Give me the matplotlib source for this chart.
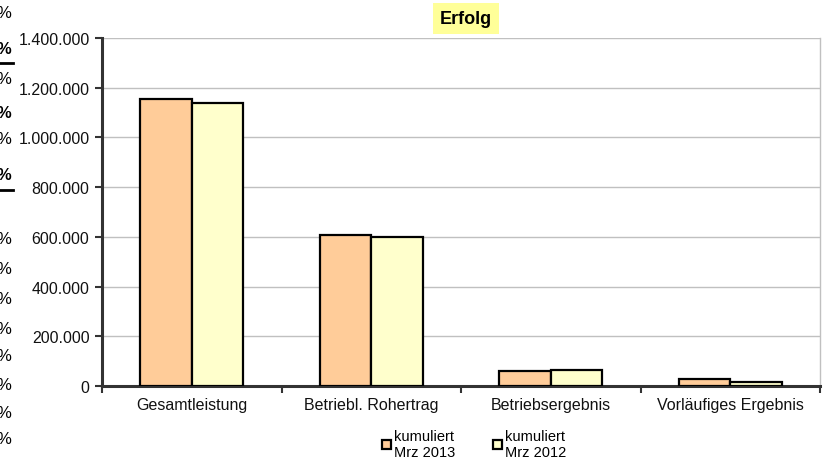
import matplotlib
matplotlib.use("Agg")
import matplotlib.pyplot as plt
from matplotlib.ticker import FuncFormatter, FixedLocator
import numpy as np

plt.rcParams['font.family'] = ['Liberation Sans', 'DejaVu Sans']

categories = ["Gesamtleistung", "Betriebl. Rohertrag", "Betriebsergebnis", "Vorläufiges Ergebnis"]
series_names = ["kumuliert\nMrz 2013", "kumuliert\nMrz 2012"]
values_2013 = [1155000, 607000, 61000, 27000]
values_2012 = [1137000, 598000, 66000, 17000]
yticks = [0, 200000, 400000, 600000, 800000, 1000000, 1200000, 1400000]
colors = ["#FFCC99", "#FFFFCC"]

W, H = 827, 460
fig = plt.figure(figsize=(W / 100, H / 100), dpi=100)
ax = fig.add_axes([102 / W, 1 - 387 / H, (820 - 102) / W, (387 - 39) / H])

x = np.arange(len(categories))
bw = 0.287
b1 = ax.bar(x - bw / 2, values_2013, bw, color=colors[0], edgecolor="black", linewidth=1.6, zorder=3, label=series_names[0])
b2 = ax.bar(x + bw / 2, values_2012, bw, color=colors[1], edgecolor="black", linewidth=1.6, zorder=3, label=series_names[1])

ax.set_xlim(-0.5, len(categories) - 0.5)
ax.set_ylim(0, 1400000)
ax.set_yticks(yticks)
ax.yaxis.set_major_formatter(FuncFormatter(lambda v, p: f"{int(v):,}".replace(",", ".")))
ax.grid(axis="y", color="#C0C0C0", linewidth=1, zorder=0)
ax.set_axisbelow(True)

ax.set_xticks(x)
ax.set_xticklabels(categories, fontsize=11.5)
ax.xaxis.set_minor_locator(FixedLocator(np.arange(-0.5, len(categories), 1.0)))
ax.tick_params(axis="x", which="major", length=0, pad=8)
ax.tick_params(axis="x", which="minor", length=5, width=1.5, color="#333333", direction="out")
ax.tick_params(axis="y", length=5, width=1.5, color="#333333", direction="out", labelsize=11.5, pad=4)
for lbl in ax.get_yticklabels() + ax.get_xticklabels():
    lbl.set_color("#111111")

for s in ["left", "bottom"]:
    ax.spines[s].set_color("#333333")
    ax.spines[s].set_linewidth(2.2)
ax.spines["top"].set_visible(False)
ax.spines["right"].set_color("#C0C0C0")
ax.spines["right"].set_linewidth(1)

# Title
fig.text(466 / W, 1 - 19.5 / H, "Erfolg", fontsize=13, fontweight="bold", ha="center", va="center",
         bbox=dict(boxstyle="square,pad=0.4", facecolor="#FFFF99", edgecolor="none"))

# Legend
leg = fig.legend(handles=[b1, b2], labels=series_names, loc="upper left", bbox_to_anchor=(382 / W, 1 - 430 / H),
                 ncol=2, frameon=False, fontsize=10.5, handlelength=0.65, handleheight=0.65,
                 handletextpad=0.15, columnspacing=2.6, borderpad=0, labelspacing=0, borderaxespad=0)

# Clipped "%" artifacts at left edge (as in the reference)
pct_y = [14, 50, 79, 113, 140, 175, 240, 270, 300, 330, 357, 386, 414, 440]
bold_idx = {1, 3, 5}
for i, yy in enumerate(pct_y):
    fig.text(11 / W, 1 - yy / H, "%", fontsize=12, ha="right", va="center",
             fontweight="bold" if i in bold_idx else "normal")
for yy in [64, 191]:
    fig.add_artist(plt.Line2D([0, 13 / W], [1 - yy / H, 1 - yy / H], color="black", linewidth=2,
                              transform=fig.transFigure))

fig.savefig("out.png", dpi=100)
